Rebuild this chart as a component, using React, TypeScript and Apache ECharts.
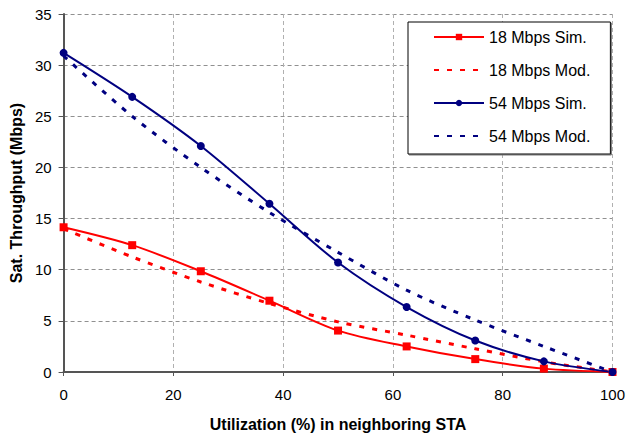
import React, { useEffect, useRef } from "react";
import * as echarts from "echarts";

const utilization = [0, 12.5, 25, 37.5, 50, 62.5, 75, 87.5, 100];
const sim18 = [14.15, 12.4, 9.85, 6.97, 4.05, 2.5, 1.26, 0.33, 0];
const mod18 = [14.0, 11.25, 8.8, 6.7, 4.9, 3.6, 2.27, 1.0, 0];
const sim54 = [31.2, 26.9, 22.1, 16.45, 10.7, 6.35, 3.08, 1.04, 0];
const mod54 = [30.9, 25.0, 20.0, 15.6, 11.7, 8.0, 5.08, 2.5, 0];
const seriesNames = ["18 Mbps Sim.", "18 Mbps Mod.", "54 Mbps Sim.", "54 Mbps Mod."];

const pairs = (ys: number[]) => utilization.map((x, i) => [x, ys[i]]);

export default function App() {
  const ref = useRef<HTMLDivElement>(null);
  useEffect(() => {
    if (!ref.current) return;
    const chart = echarts.init(ref.current, null, { renderer: "svg" });
    const font = "Arial, 'Liberation Sans', sans-serif";
    const red = "#ff0000";
    const blue = "#000080";
    chart.setOption({
      animation: false,
      textStyle: { fontFamily: font },
      grid: { left: 63, right: 13, top: 14, bottom: 63, containLabel: false },
      legend: {
        orient: "vertical",
        left: 408,
        top: 22,
        padding: [7, 20, 10, 25],
        itemGap: 17,
        itemWidth: 50,
        itemHeight: 8,
        borderColor: "#000",
        borderWidth: 1,
        backgroundColor: "#fff",
        shadowColor: "#777",
        shadowOffsetX: 1,
        shadowOffsetY: 1,
        shadowBlur: 0,
        textStyle: { fontSize: 16, color: "#000", fontFamily: font, lineHeight: 16 },
        data: [
          { name: seriesNames[0] },
          { name: seriesNames[1], itemStyle: { opacity: 0 } },
          { name: seriesNames[2] },
          { name: seriesNames[3], itemStyle: { opacity: 0 } },
        ],
      },
      xAxis: {
        type: "value",
        min: 0,
        max: 100,
        interval: 20,
        name: "Utilization (%) in neighboring STA",
        nameLocation: "middle",
        nameGap: 44,
        nameTextStyle: { fontSize: 16, fontWeight: "bold", color: "#000", fontFamily: font },
        axisLine: { show: true, onZero: false, lineStyle: { color: "#555", width: 2 } },
        axisTick: { show: true, length: 4, lineStyle: { color: "#555" } },
        axisLabel: { fontSize: 15, color: "#000", margin: 15 },
        splitLine: { show: true, lineStyle: { color: "#b0b0b0", type: [4, 3], width: 1 } },
      },
      yAxis: {
        type: "value",
        min: 0,
        max: 35,
        interval: 5,
        name: "Sat. Throughput (Mbps)",
        nameLocation: "middle",
        nameGap: 39,
        nameTextStyle: { fontSize: 16, fontWeight: "bold", color: "#000", fontFamily: font },
        axisLine: { show: true, lineStyle: { color: "#555", width: 2 } },
        axisTick: { show: true, length: 5, lineStyle: { color: "#555" } },
        axisLabel: { fontSize: 15, color: "#000", margin: 12 },
        splitLine: { show: true, lineStyle: { color: "#909090", type: [4, 3], width: 1 } },
      },
      series: [
        {
          name: seriesNames[0],
          type: "line",
          data: pairs(sim18),
          smooth: 0.3,
          symbol: "rect",
          symbolSize: 8,
          itemStyle: { color: red },
          lineStyle: { color: red, width: 2 },
          z: 4,
        },
        {
          name: seriesNames[1],
          type: "line",
          data: pairs(mod18),
          smooth: 0.3,
          showSymbol: false,
          symbol: "none",
          itemStyle: { color: red },
          lineStyle: { color: red, width: 3, type: [5, 8] },
          z: 3,
        },
        {
          name: seriesNames[2],
          type: "line",
          data: pairs(sim54),
          smooth: 0.3,
          symbol: "circle",
          symbolSize: 8,
          itemStyle: { color: blue },
          lineStyle: { color: blue, width: 2 },
          z: 4,
        },
        {
          name: seriesNames[3],
          type: "line",
          data: pairs(mod54),
          smooth: 0.3,
          showSymbol: false,
          symbol: "none",
          itemStyle: { color: blue },
          lineStyle: { color: blue, width: 3, type: [5, 8] },
          z: 3,
        },
      ],
    });
    return () => chart.dispose();
  }, []);
  return (
    <div
      ref={ref}
      style={{ position: "fixed", left: 0, top: 0, width: 628, height: 437, background: "#fff" }}
    />
  );
}
